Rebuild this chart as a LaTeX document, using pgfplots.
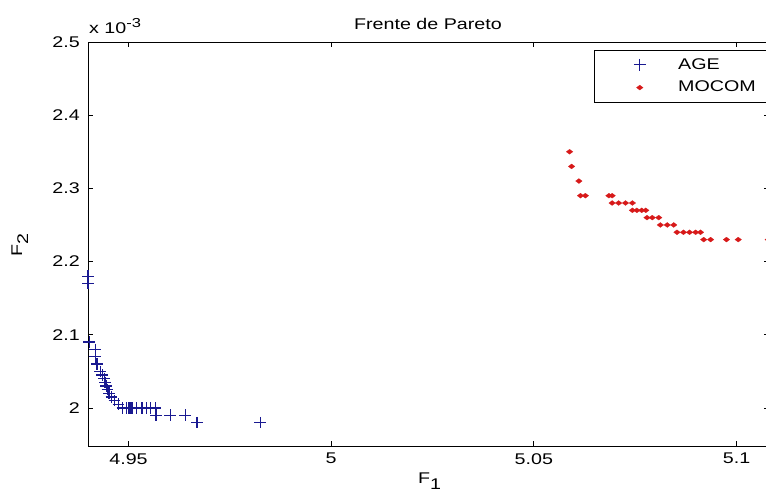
\documentclass[border=0pt]{standalone}
\usepackage{fontspec}
\setmainfont{Liberation Sans}[FakeStretch=1.27]
\usepackage{pgfplots}
\pgfplotsset{compat=1.18}
\definecolor{ageblue}{RGB}{25,25,145}
\definecolor{mocomred}{RGB}{215,25,25}
\pgfplotstableread{
x y
4.9400 2.180
4.9400 2.170
4.9403 2.090
4.9418 2.080
4.9418 2.070
4.9422 2.060
4.9430 2.050
4.9435 2.045
4.9440 2.040
4.9442 2.035
4.9445 2.030
4.9448 2.025
4.9452 2.020
4.9458 2.015
4.9465 2.010
4.9475 2.005
4.9485 2.000
4.9495 2.000
4.9500 2.000
4.9503 2.000
4.9506 2.000
4.9510 2.000
4.9520 2.000
4.9533 2.000
4.9545 2.000
4.9555 2.000
4.9566 2.000
4.9568 1.990
4.9603 1.990
4.9640 1.990
4.9669 1.980
4.9825 1.980
}\agedata
\pgfplotstableread{
x y
5.0588 2.350
5.0593 2.330
5.0611 2.310
5.0615 2.290
5.0627 2.290
5.0685 2.290
5.0693 2.290
5.0693 2.280
5.0709 2.280
5.0726 2.280
5.0743 2.280
5.0743 2.270
5.0754 2.270
5.0766 2.270
5.0776 2.270
5.0779 2.260
5.0792 2.260
5.0808 2.260
5.0812 2.250
5.0829 2.250
5.0845 2.250
5.0853 2.240
5.0869 2.240
5.0884 2.240
5.0899 2.240
5.0911 2.240
5.0919 2.230
5.0936 2.230
5.0975 2.230
5.1004 2.230
5.1078 2.230
}\mocomdata
\begin{document}
\fontsize{15.5}{18}\selectfont
\begin{tikzpicture}
\begin{axis}[
  at={(88pt,43pt)}, anchor=south west,
  scale only axis, width=681pt, height=404pt,
  xmin=4.94, xmax=5.108, ymin=1.948, ymax=2.5,
  xtick={4.95,5,5.05,5.1}, xticklabels={4.95,5,5.05,5.1},
  ytick={2,2.1,2.2,2.3,2.4,2.5}, yticklabels={2,2.1,2.2,2.3,2.4,2.5},
  tick align=inside, major tick length=5pt,
  axis line style={line width=0.8pt},
  tick style={line width=0.8pt, black},
  xticklabel style={anchor=north, inner sep=0pt, yshift=-7pt},
  yticklabel style={anchor=east, inner sep=0pt, xshift=-8pt},
  clip=false,
  legend cell align=left,
  legend style={at={(0.743,0.9802)}, anchor=north west, draw=black,
    line width=0.8pt, fill=white, inner xsep=0pt, inner ysep=3pt,
    row sep=0pt, column sep=0pt, nodes={inner sep=0pt}},
  legend image code/.code={\path (-45pt,-11pt) (38pt,11pt); \draw[#1] plot coordinates {(0pt,0pt)};},
]
\addplot[only marks, mark=+, mark size=5.8pt, color=ageblue,
  mark options={line width=1.3pt}] table[x=x,y=y] {\agedata};
\addlegendentry{AGE}
\addplot[only marks, mark=diamond*, mark size=3.3pt, color=mocomred,
  mark options={rotate=90, draw=mocomred, fill=mocomred, line width=0.2pt}] table[x=x,y=y] {\mocomdata};
\addlegendentry{MOCOM\hspace*{20pt}}
\end{axis}
\node[anchor=base, inner sep=0pt] at (428pt,459pt) {Frente de Pareto};
\node[anchor=base west, inner sep=0pt] at (89pt,455pt) {x 10\raisebox{0.4em}{\fontsize{13}{15}\selectfont -3}};
\node[anchor=base west, inner sep=0pt] at (418pt,5pt) {F\raisebox{-0.35em}{1}};
\node[anchor=base, rotate=90, inner sep=0pt] at (22pt,244pt) {F\raisebox{-0.4em}{2}};
\pgfresetboundingbox
\useasboundingbox (0pt,0pt) rectangle (766pt,489pt);
\end{tikzpicture}
\end{document}
